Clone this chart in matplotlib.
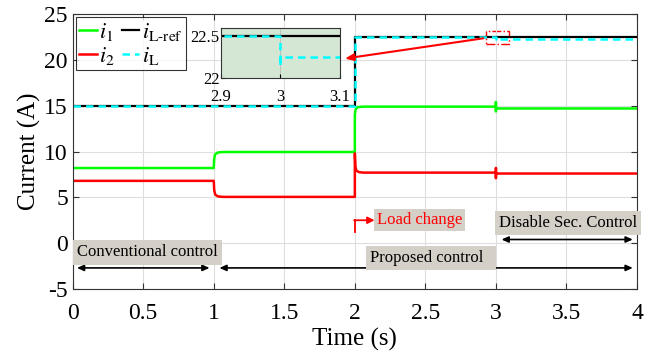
import numpy as np
import matplotlib.pyplot as plt

plt.rcParams["font.family"] = ["Liberation Serif", "DejaVu Serif"]
plt.rcParams["mathtext.fontset"] = "stix"
plt.rcParams["axes.unicode_minus"] = False

# breakpoints (s) and currents (A)
t_i1 = [0.0, 1.0, 1.003, 1.01, 1.03, 1.07, 2.0, 2.0, 2.005, 2.02, 2.06, 3.0, 3.0, 3.0, 3.0, 4.0]
v_i1 = [8.2, 8.2, 9.2, 9.7, 9.9, 9.95, 9.95, 14.0, 14.6, 14.85, 14.9, 14.9, 15.4, 14.4, 14.7, 14.7]
t_i2 = [0.0, 1.0, 1.003, 1.01, 1.03, 1.07, 2.0, 2.0, 2.004, 2.012, 2.03, 2.06, 3.0, 3.0, 3.0, 3.0, 4.0]
v_i2 = [6.8, 6.8, 5.8, 5.3, 5.1, 5.05, 5.05, 9.8, 8.3, 7.9, 7.75, 7.7, 7.7, 8.2, 7.1, 7.6, 7.6]
t_ref = [0.0, 2.0, 2.0, 4.0]
v_ref = [15.0, 15.0, 22.5, 22.5]
t_iL = [0.0, 2.0, 2.0, 3.0, 3.0, 3.0, 4.0]
v_iL = [15.0, 15.0, 22.5, 22.5, 22.15, 22.25, 22.25]

xticks = [0, 0.5, 1, 1.5, 2, 2.5, 3, 3.5, 4]
xtick_labels = ["0", "0.5", "1", "1.5", "2", "2.5", "3", "3.5", "4"]
yticks = [-5, 0, 5, 10, 15, 20, 25]

box_gray = "#d4d0c8"

fig = plt.figure(figsize=(6.67, 3.52), dpi=100)
ax = fig.add_axes([0.109, 0.179, 0.846, 0.781])

ax.plot(t_i1, v_i1, color="#00ff00", lw=1.8, label=r"$i_1$")
ax.plot(t_i2, v_i2, color="#ff0000", lw=1.8, label=r"$i_2$")
ax.plot(t_ref, v_ref, color="black", lw=1.6, label=r"$i_{\mathrm{L\text{-}ref}}$")
ax.plot(t_iL, v_iL, color="#00ffff", lw=1.8, ls=(0, (3, 2)), label=r"$i_{\mathrm{L}}$")

ax.set_xlim(0, 4)
ax.set_ylim(-5, 25)
ax.set_xticks(xticks)
ax.set_xticklabels(xtick_labels)
ax.set_yticks(yticks)
ax.tick_params(direction="in", top=True, right=True, labelsize=17, length=4, color="#333333")
ax.tick_params(axis="x", pad=10)
ax.grid(True, color="#dedede", lw=0.8)
for s in ax.spines.values():
    s.set_color("#333333")
ax.set_xlabel("Time (s)", fontsize=18, labelpad=3)
ax.set_ylabel("Current (A)", fontsize=18, labelpad=2)

h, l = ax.get_legend_handles_labels()
leg = ax.legend(h, l, ncol=2, loc="upper left",
                fontsize=16, handlelength=0.8, handletextpad=0.1, columnspacing=0.3,
                labelspacing=0.1, borderpad=0.15, borderaxespad=0.15, frameon=True, fancybox=False)
leg.get_frame().set_edgecolor("black")
leg.get_frame().set_linewidth(0.8)

# zoom window around the secondary-control disable
ax.add_patch(plt.Rectangle((2.93, 21.7), 0.16, 1.5, fill=False, ec="red", lw=1.0, ls="-."))
ax.annotate("", xy=(1.91, 20.1), xytext=(2.93, 22.4),
            arrowprops=dict(arrowstyle="-|>,head_length=0.5,head_width=0.2", color="red", lw=1.5))

# load change marker
ax.plot([2.0, 2.0], [1.2, 2.5], color="red", lw=1.3)
ax.annotate("", xy=(2.14, 2.5), xytext=(1.995, 2.5),
            arrowprops=dict(arrowstyle="-|>,head_length=0.4,head_width=0.2", color="red", lw=1.3,
                            shrinkA=0, shrinkB=0))
ax.text(2.155, 2.5, "Load change", color="red", fontsize=12, va="center",
        bbox=dict(fc=box_gray, ec="none", pad=2))

# control mode spans
arrow_kw = dict(arrowstyle="<|-|>,head_length=0.4,head_width=0.18", color="black", lw=1.2,
                shrinkA=0, shrinkB=0)
ax.annotate("", xy=(0.03, -2.7), xytext=(0.97, -2.7), arrowprops=arrow_kw)
ax.annotate("", xy=(1.04, -2.7), xytext=(3.97, -2.7), arrowprops=arrow_kw)
ax.annotate("", xy=(3.04, 0.4), xytext=(3.97, 0.4), arrowprops=arrow_kw)
ax.text(0.03, -1.0, "Conventional control", fontsize=12, va="center",
        bbox=dict(fc=box_gray, ec="none", pad=3))
ax.text(2.11, -1.6, "Proposed control  ", fontsize=12, va="center",
        bbox=dict(fc=box_gray, ec="none", pad=3))
ax.text(3.02, 2.2, "Disable Sec. Control", fontsize=12, va="center",
        bbox=dict(fc=box_gray, ec="none", pad=3))

# inset
ins = fig.add_axes([221 / 667, 1 - 78 / 352, 119 / 667, 50 / 352])
ins.set_facecolor("#d4e6d4")
ins.plot(t_ref, v_ref, color="black", lw=1.6)
ins.plot(t_iL, v_iL, color="#00ffff", lw=1.8, ls=(0, (3, 2)))
ins.set_xlim(2.9, 3.1)
ins.set_ylim(22, 22.6)
ins.set_xticks([2.9, 3, 3.1])
ins.set_xticklabels(["2.9", "3", "3.1"])
ins.set_yticks([22, 22.5])
ins.set_yticklabels(["22", "22.5"])
ins.tick_params(direction="in", labelsize=12, length=3, pad=1)
ins.tick_params(axis="x", pad=8)
ins.grid(True, color="#bbbbbb", lw=0.6)
for s in ins.spines.values():
    s.set_color("#333333")

fig.savefig("out.png", dpi=100)
